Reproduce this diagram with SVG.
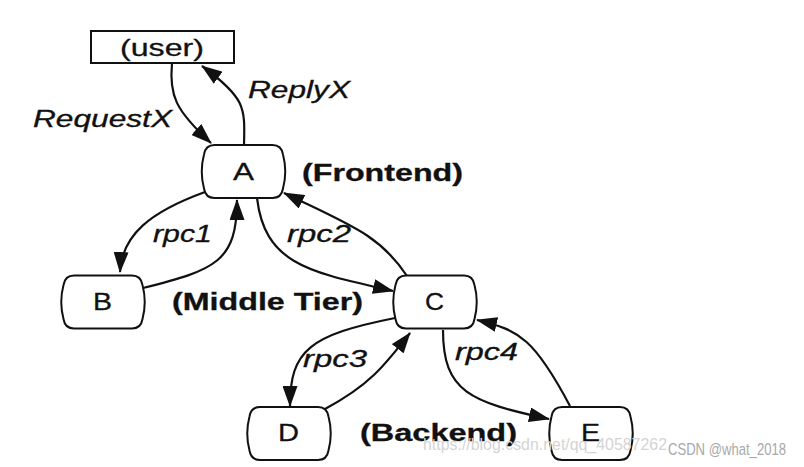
<svg xmlns="http://www.w3.org/2000/svg" xmlns:xlink="http://www.w3.org/1999/xlink" width="804" height="467" viewBox="0 0 804 467">
<style>
.node{fill:#fff;stroke:#111;stroke-width:2}
.lbl{font-family:"Liberation Sans",Arial,sans-serif;fill:#111;stroke:#111;stroke-width:0.3}
.nl{font-size:24px}
.it{font-size:23px;font-style:italic}
.bd{font-size:23px;font-weight:bold}
.conn{fill:none;stroke:#111;stroke-width:2.2}
.wm{font-family:"Liberation Sans",Arial,sans-serif;font-size:17px}
</style>
<defs>
<path id="nodeShape" d="M -29,-26.5 H 29 Q 38,-26.5 39.5,-17 Q 44,0 39.5,17 Q 38,26.5 29,26.5 H -29 Q -38,26.5 -39.5,17 Q -44,0 -39.5,-17 Q -38,-26.5 -29,-26.5 Z"/>
<marker id="arr" viewBox="0 0 21 15" refX="20" refY="7.5" markerWidth="21" markerHeight="15" markerUnits="userSpaceOnUse" orient="auto">
<path d="M0,0 L21,7.5 L0,15 Z" fill="#111"/>
</marker>
</defs>
<rect width="804" height="467" fill="#fff"/>
<g id="connectors">
<path class="conn" marker-end="url(#arr)" d="M 172 63 C 169 95, 175 110, 211 143"/>
<path class="conn" marker-end="url(#arr)" d="M 244 145 C 245 108, 246 98, 202 66"/>
<path class="conn" marker-end="url(#arr)" d="M 205 192 C 150 212, 122 235, 120 272"/>
<path class="conn" marker-end="url(#arr)" d="M 143 288 C 215 270, 237 262, 237 200"/>
<path class="conn" marker-end="url(#arr)" d="M 257 198 C 265 265, 310 272, 393 291"/>
<path class="conn" marker-end="url(#arr)" d="M 407 276 C 380 235, 350 225, 284 193"/>
<path class="conn" marker-end="url(#arr)" d="M 395 318 C 310 335, 290 350, 290 406"/>
<path class="conn" marker-end="url(#arr)" d="M 325 409 C 370 385, 385 365, 410 333"/>
<path class="conn" marker-end="url(#arr)" d="M 443 330 C 443 392, 470 402, 549 419"/>
<path class="conn" marker-end="url(#arr)" d="M 570 406 C 535 340, 520 330, 477 320"/>
</g>
<g id="user">
<rect class="node" x="91" y="31" width="143" height="32"/>
<text class="lbl" x="120" y="56" font-size="24" textLength="84" lengthAdjust="spacingAndGlyphs">(user)</text>
</g>
<g id="nodeA">
<use xlink:href="#nodeShape" class="node" transform="translate(243.5,171.5)"/>
<text class="lbl nl" x="233" y="180" textLength="21" lengthAdjust="spacingAndGlyphs">A</text>
</g>
<g id="nodeB">
<use xlink:href="#nodeShape" class="node" transform="translate(103,302)"/>
<text class="lbl nl" x="93" y="310" textLength="19" lengthAdjust="spacingAndGlyphs">B</text>
</g>
<g id="nodeC">
<use xlink:href="#nodeShape" class="node" transform="translate(435,302)"/>
<text class="lbl nl" x="425" y="310" textLength="19" lengthAdjust="spacingAndGlyphs">C</text>
</g>
<g id="nodeD">
<use xlink:href="#nodeShape" class="node" transform="translate(289,433.5)"/>
<text class="lbl nl" x="278" y="441" textLength="21" lengthAdjust="spacingAndGlyphs">D</text>
</g>
<g id="nodeE">
<use xlink:href="#nodeShape" class="node" transform="translate(591,433.5)"/>
<text class="lbl nl" x="581" y="441" textLength="19" lengthAdjust="spacingAndGlyphs">E</text>
</g>
<g id="labels">
<text class="lbl it" x="33" y="127" textLength="139" lengthAdjust="spacingAndGlyphs">RequestX</text>
<text class="lbl it" x="248" y="98" textLength="102" lengthAdjust="spacingAndGlyphs">ReplyX</text>
<text class="lbl it" x="153" y="242" textLength="59" lengthAdjust="spacingAndGlyphs">rpc1</text>
<text class="lbl it" x="287" y="242" textLength="64" lengthAdjust="spacingAndGlyphs">rpc2</text>
<text class="lbl it" x="303" y="367" textLength="64" lengthAdjust="spacingAndGlyphs">rpc3</text>
<text class="lbl it" x="455" y="360" textLength="63" lengthAdjust="spacingAndGlyphs">rpc4</text>
<text class="lbl bd" x="302" y="181" textLength="161" lengthAdjust="spacingAndGlyphs">(Frontend)</text>
<text class="lbl bd" x="172" y="310" textLength="191" lengthAdjust="spacingAndGlyphs">(Middle Tier)</text>
<text class="lbl bd" x="360" y="441" textLength="157" lengthAdjust="spacingAndGlyphs">(Backend)</text>
</g>
<g id="watermark">
<text class="wm" x="423" y="450" fill="#d4d4d4" textLength="244" lengthAdjust="spacingAndGlyphs">https://blog.csdn.net/qq_40587262</text>
<text class="wm" x="668" y="455" fill="#a8a8a8" textLength="118" lengthAdjust="spacingAndGlyphs">CSDN @what_2018</text>
</g>
</svg>
